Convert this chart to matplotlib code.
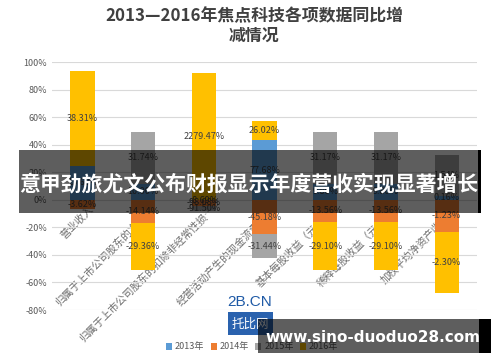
import numpy as np
import matplotlib
matplotlib.use('Agg')
import matplotlib.pyplot as plt
from matplotlib.patches import Rectangle
from matplotlib.transforms import ScaledTranslation

plt.rcParams['font.family'] = ['Noto Sans CJK SC', 'DejaVu Sans']

categories = ['营业收入', '归属于上市公司股东的净利润', '归属于上市公司股东的扣除非经常性损…',
              '经营活动产生的现金流量净额', '基本每股收益（元/股）', '稀释每股收益（元/股）',
              '加权平均净资产收益率']
series_names = ['2013年', '2014年', '2015年', '2016年']
# growth rates (%) per year, stacked as a 100% column chart
v2013 = [13.60, 10.00, -8.69, 77.68, 9.80, 9.80, 0.16]
v2014 = [-3.62, -14.14, -98.08, -45.18, -13.56, -13.56, -1.23]
v2015 = [0.00, 31.74, -91.50, -31.44, 31.17, 31.17, 1.54]
v2016 = [38.31, -29.36, 2279.47, 26.02, -29.10, -29.10, -2.30]
colors = ['#5B9BD5', '#ED7D31', '#A5A5A5', '#FFC000']

W, H = 500, 362
fig = plt.figure(figsize=(W / 100, H / 100), dpi=100)
ax = fig.add_axes([52 / W, 1 - 310 / H, (477 - 52) / W, (310 - 62) / H])

data = np.array([v2013, v2014, v2015, v2016])
total = np.abs(data).sum(axis=0)
share = data / total
x = np.arange(len(categories))
pos_base = np.zeros(len(categories))
neg_base = np.zeros(len(categories))
for k in range(len(series_names)):
    s = share[k]
    bottom = np.where(s >= 0, pos_base, neg_base)
    ax.bar(x, s, 0.4, bottom=bottom, color=colors[k], label=series_names[k], zorder=2)
    for i in range(len(x)):
        if data[k][i] == 0:
            continue
        ax.text(x[i], bottom[i] + s[i] / 2, '%.2f%%' % data[k][i], ha='center', va='center',
                fontsize=6.5, color='#404040', zorder=3)
    pos_base = pos_base + np.where(s >= 0, s, 0)
    neg_base = neg_base + np.where(s < 0, s, 0)

ax.set_ylim(-0.8, 1.0)
ax.set_xlim(-0.5, len(categories) - 0.5)
ticks = np.arange(-0.8, 1.01, 0.2)
ax.set_yticks(ticks)
ax.set_yticklabels(['%d%%' % round(t * 100) for t in ticks], fontsize=6.5, color='#595959')
ax.grid(axis='y', color='#d9d9d9', linewidth=0.8, zorder=0)
ax.set_axisbelow(True)
for sp in ['top', 'right', 'left']:
    ax.spines[sp].set_visible(False)
ax.spines['bottom'].set_position(('data', 0))
ax.spines['bottom'].set_color('none')
ax.tick_params(length=0)
ax.tick_params(axis='x', pad=6)
ax.set_xticks(x)
ax.set_xticklabels(categories, rotation=45, ha='right', va='center', rotation_mode='anchor',
                   fontsize=7.5, color='#6f6f6f')
for lab in ax.get_xticklabels():
    lab.set_transform(lab.get_transform() + ScaledTranslation(9 / 100, 0, fig.dpi_scale_trans))

fig.text(254 / W, 1 - 16 / H, '2013—2016年焦点科技各项数据同比增', ha='center', va='center',
         fontsize=12.2, fontweight='bold', color='#404040')
fig.text(254 / W, 1 - 36 / H, '减情况', ha='center', va='center',
         fontsize=12.2, fontweight='bold', color='#404040')

fig.legend(loc='center', bbox_to_anchor=(252 / W, 1 - 347 / H), ncol=4, frameon=False,
           fontsize=6.5, handlelength=0.7, handleheight=0.7, columnspacing=0.7,
           handletextpad=0.3, labelcolor='#595959')

# logo
fig.text(250 / W, 1 - 302 / H, '2B.CN', ha='center', va='center', fontsize=11,
         color='#1f5aa6', family='Liberation Sans')
fig.add_artist(Rectangle((228 / W, 1 - 335 / H), 45 / W, 23 / H, transform=fig.transFigure,
                         facecolor='#2a62ae', edgecolor='none', zorder=6))
fig.text(250 / W, 1 - 324 / H, '托比网', ha='center', va='center', fontsize=9,
         color='white', zorder=7)

# overlay banner
fig.add_artist(Rectangle((19 / W, 1 - 213 / H), (481 - 19) / W, 63 / H, transform=fig.transFigure,
                         facecolor='black', alpha=0.63, edgecolor='none', zorder=10))
fig.add_artist(Rectangle((478 / W, 1 - 213 / H), 3 / W, 63 / H, transform=fig.transFigure,
                         facecolor='black', edgecolor='none', zorder=10))
fig.text(249 / W, 1 - 184 / H, '意甲劲旅尤文公布财报显示年度营收实现显著增长', ha='center',
         va='center', fontsize=15, fontweight='bold', color='white', zorder=11)

# watermark
fig.add_artist(Rectangle((258 / W, 1 - 353 / H), (479 - 258) / W, 34 / H, transform=fig.transFigure,
                         facecolor='black', alpha=0.63, edgecolor='none', zorder=10))
fig.add_artist(Rectangle((479 / W, 1 - 353 / H), 12 / W, 34 / H, transform=fig.transFigure,
                         facecolor='black', edgecolor='none', zorder=10))
fig.text(373 / W, 1 - 337 / H, 'www.sino-duoduo28.com', ha='center', va='center', fontsize=11,
         fontweight='bold', color='white', family='DejaVu Sans', zorder=11)

fig.savefig('out.png', dpi=100)
